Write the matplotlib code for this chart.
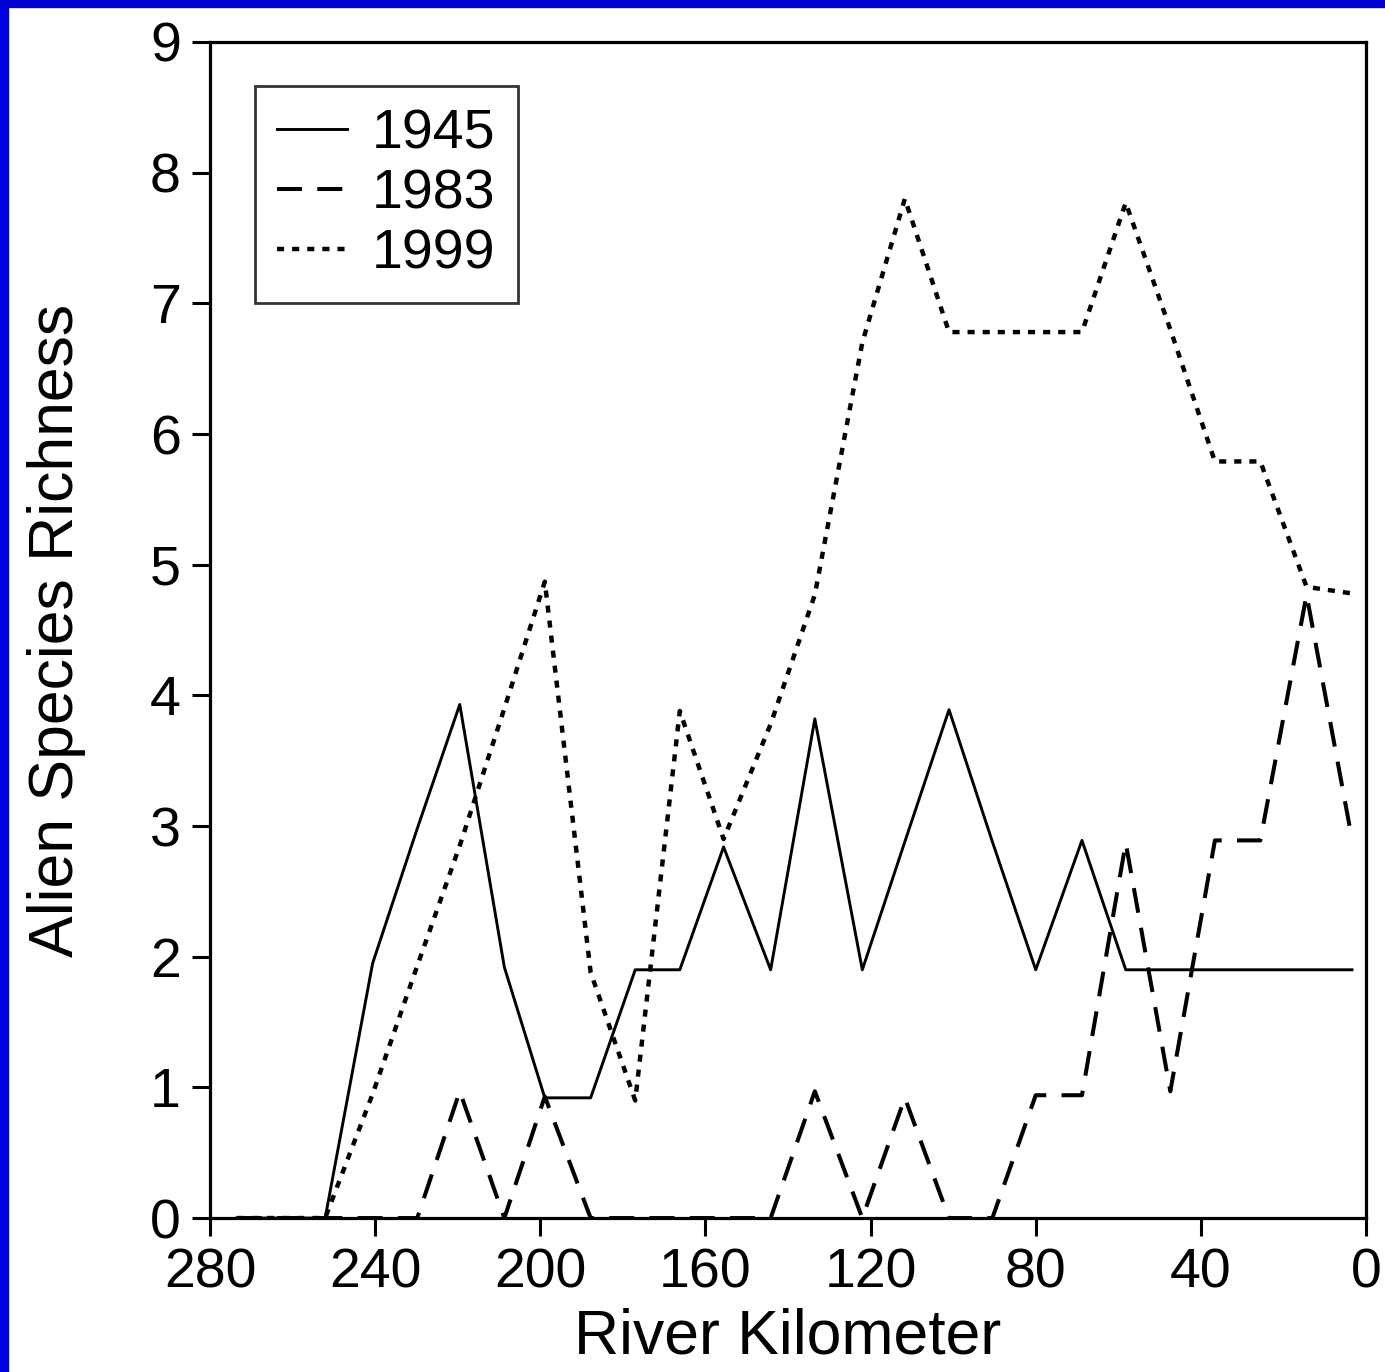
import matplotlib
matplotlib.use("Agg")
import matplotlib.pyplot as plt
from matplotlib.patches import Rectangle

plt.rcParams['font.family'] = ['Liberation Sans', 'DejaVu Sans']

# river kilometer of each sampling site
km = [273.5, 262.8, 252.1, 240.6, 229.8, 219.5, 208.7, 198.9, 187.8, 177.0,
      166.2, 155.6, 144.2, 133.5, 122.0, 111.7, 101.0, 90.5, 80.0, 68.8,
      58.2, 47.4, 36.6, 25.6, 14.4, 3.4]

rich_1945 = [0, 0, 0, 1.95, 2.98, 3.93, 1.92, 0.92, 0.92, 1.90,
             1.90, 2.84, 1.90, 3.82, 1.90, 2.88, 3.89, 2.88, 1.90, 2.89,
             1.90, 1.90, 1.90, 1.90, 1.90, 1.90]
rich_1983 = [0, 0, 0, 0, 0, 0.97, 0, 0.93, 0, 0,
             0, 0, 0, 0.97, 0, 0.92, 0, 0, 0.94, 0.94,
             2.87, 0.97, 2.89, 2.89, 4.77, 2.90]
rich_1999 = [0, 0, 0, 0.95, 1.93, 2.85, 3.90, 4.87, 1.88, 0.90,
             3.88, 2.90, 3.78, 4.77, 6.70, 7.80, 6.78, 6.78, 6.78, 6.78,
             7.77, 6.80, 5.79, 5.79, 4.83, 4.78]

xticks = [280, 240, 200, 160, 120, 80, 40, 0]
yticks = list(range(10))

fig = plt.figure(figsize=(13.85, 13.72), dpi=100)
ax = fig.add_axes([0.1516, 0.1122, 0.8347, 0.8572])

ax.plot(km, rich_1945, color='black', lw=2.1, ls='-', label='1945')
ax.plot(km, rich_1983, color='black', lw=2.9, ls=(0, (6.2, 3.8)), label='1983')
ax.plot(km, rich_1999, color='black', lw=3.2, ls=(0, (1.6, 1.8)), label='1999')

ax.set_xlim(280, 0)
ax.set_ylim(0, 9)
ax.set_xticks(xticks)
ax.set_yticks(yticks)
ax.tick_params(direction='out', length=13, width=2.2, labelsize=40, pad=8)
for s in ax.spines.values():
    s.set_linewidth(2.3)

ax.set_xlabel('River Kilometer', fontsize=45, labelpad=6)
ax.set_ylabel('Alien Species Richness', fontsize=45, labelpad=46)

leg = ax.legend(loc='upper left', bbox_to_anchor=(0.039, 0.9626), borderaxespad=0,
                fontsize=40, frameon=True, fancybox=False, edgecolor='black',
                handlelength=1.25, handletextpad=0.45, labelspacing=0.15,
                borderpad=0.4)
leg.get_frame().set_linewidth(2.0)

# blue frame strips on left and top
fig.patches.append(Rectangle((0, 0), 8 / 1385, 1, transform=fig.transFigure,
                             color='#0000E6', zorder=10))
fig.patches.append(Rectangle((0, 1 - 7 / 1372), 1, 7 / 1372, transform=fig.transFigure,
                             color='#0000D0', zorder=10))

fig.savefig('out.png', dpi=100)
